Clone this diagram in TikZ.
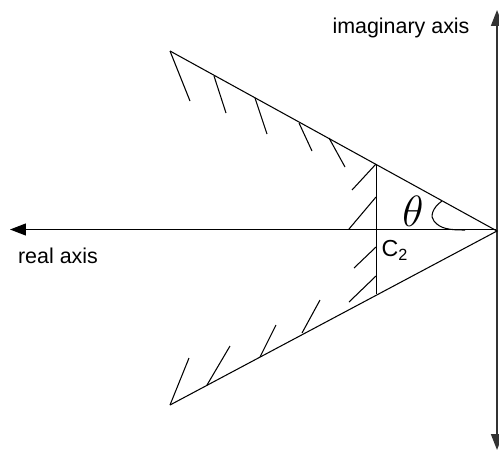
\documentclass[tikz,border=0pt]{standalone}
\usepackage{fontspec}
\setmainfont{Liberation Sans}
\usetikzlibrary{arrows.meta}
\tikzset{
    axisarrow/.style={-{Triangle[length=0.32cm,width=0.24cm]}},
    axislabel/.style={font=\fontsize{12.2}{14}\selectfont,inner sep=0pt},
    hatchline/.style={line width=0.6pt}
}
\begin{document}
\begin{tikzpicture}[x=0.02cm,y=-0.02cm]
    \useasboundingbox (0,0) rectangle (499,450);
    \coordinate (apex) at (497,231);
    \coordinate (top) at (170,51);
    \coordinate (bottom) at (170,405);
    \coordinate (chordtop) at (376.5,164);
    \coordinate (chordbottom) at (376.5,294);
    \coordinate (realtip) at (10,229.5);
    \coordinate (realstart) at (497,229.5);
    \coordinate (imagtop) at (497,10);
    \coordinate (imagbottom) at (497,450);
    % axes
    \draw [axisarrow, line width=0.7pt] (realstart) -- (realtip);
    \draw [axisarrow, line width=1pt, black!80] (apex) -- (imagtop);
    \draw [axisarrow, line width=1pt, black!80] (apex) -- (imagbottom);
    % wedge
    \draw [hatchline] (top) -- (apex) -- (bottom);
    \draw [hatchline] (chordtop) -- (chordbottom);
    % hatching
    \foreach \xa/\ya/\xb/\yb in {170/51/190/101, 214/76/226/113, 255/98/267/134, 299/123/312/151, 329/138/345/167,
        170/405/189/358, 207/385/230/346, 260/357/276/325, 302/333/320/300, 349/302/376/276,
        376/164/352/190, 376/197/349/229, 376/247/354/268}
        \draw [hatchline] (\xa,\ya) -- (\xb,\yb);
    % angle
    \draw [hatchline] (442,201) .. controls (432,208) and (430,217) .. (434,221) .. controls (440,229) and (450,230) .. (465,230);
    \node (theta) at (413,211) {\fontsize{23}{26}\selectfont$\theta$};
    \node [axislabel] (imaglabel) at (401,28) {imaginary axis};
    \node [axislabel] (reallabel) at (58,256) {real axis};
    \node [axislabel, font=\fontsize{13.2}{15}\selectfont] (ctwo) at (395,250) {C\textsubscript{2}};
\end{tikzpicture}
\end{document}
